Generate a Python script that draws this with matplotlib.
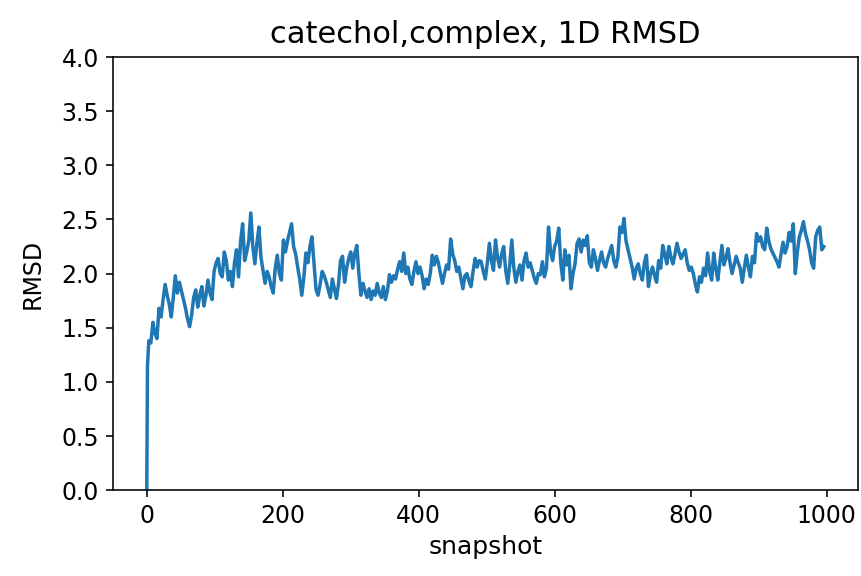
import numpy as np
import matplotlib.pyplot as plt

# RMSD per snapshot: first two frames, then every 3rd frame up to 996
rmsd_start = [0.00, 1.15]
rmsd = [
    1.38, 1.36, 1.55, 1.45, 1.40, 1.68, 1.60, 1.76, 1.90, 1.80, 1.72, 1.60, 1.78, 1.98, 1.82, 1.92, 1.84, 1.76, 1.68, 1.58,
    1.51, 1.62, 1.78, 1.85, 1.69, 1.80, 1.88, 1.70, 1.80, 1.94, 1.82, 1.76, 2.02, 2.10, 2.14, 2.00, 1.97, 2.20, 2.12, 1.94,
    2.02, 1.88, 2.10, 2.22, 1.97, 2.30, 2.46, 2.12, 2.20, 2.30, 2.56, 2.25, 2.09, 2.28, 2.43, 2.15, 2.03, 1.91, 2.02, 1.97,
    1.88, 1.82, 2.05, 2.17, 2.00, 1.94, 2.31, 2.20, 2.30, 2.38, 2.46, 2.25, 2.18, 2.06, 1.95, 1.80, 1.96, 2.19, 2.10, 2.25,
    2.34, 2.10, 1.85, 1.80, 1.90, 2.02, 1.98, 1.92, 1.85, 1.78, 1.95, 1.86, 1.77, 1.90, 2.12, 2.16, 1.92, 2.05, 2.14, 2.20,
    2.05, 2.19, 2.26, 2.00, 1.80, 1.91, 1.84, 1.78, 1.86, 1.76, 1.84, 1.80, 1.91, 1.82, 1.78, 1.88, 1.76, 1.84, 1.99, 1.92,
    1.98, 1.95, 2.04, 2.11, 2.02, 2.19, 2.00, 2.06, 1.95, 1.90, 2.02, 2.11, 2.00, 2.06, 1.98, 1.86, 1.95, 1.90, 2.00, 2.17,
    2.08, 2.16, 2.10, 2.00, 1.91, 2.00, 2.08, 2.04, 2.32, 2.18, 2.12, 2.02, 2.06, 1.96, 1.86, 1.98, 2.00, 1.93, 1.88, 2.02,
    2.14, 2.06, 2.12, 2.11, 2.02, 1.95, 2.10, 2.28, 2.12, 2.03, 2.31, 2.15, 2.06, 2.18, 2.25, 2.03, 1.91, 2.08, 2.31, 2.05,
    1.92, 2.02, 2.08, 1.94, 2.12, 2.19, 2.06, 2.10, 2.03, 1.96, 1.91, 2.00, 1.99, 2.11, 1.97, 2.05, 2.43, 2.20, 2.12, 2.25,
    2.30, 2.42, 2.10, 1.94, 2.22, 2.08, 2.17, 1.86, 2.00, 2.09, 2.28, 2.32, 2.20, 2.31, 2.26, 2.35, 2.10, 2.06, 2.22, 2.14,
    2.03, 2.12, 2.20, 2.10, 2.06, 2.14, 2.20, 2.26, 2.12, 2.06, 2.15, 2.43, 2.38, 2.51, 2.30, 2.22, 2.14, 2.06, 1.95, 2.05,
    2.09, 2.00, 1.94, 2.10, 2.17, 1.88, 2.00, 2.06, 1.98, 1.92, 2.12, 2.05, 2.26, 2.18, 2.09, 2.25, 2.15, 2.09, 2.18, 2.28,
    2.20, 2.14, 2.18, 2.22, 2.10, 2.03, 2.06, 2.00, 1.90, 1.83, 1.97, 1.92, 2.05, 1.98, 2.19, 2.02, 1.94, 2.19, 2.05, 1.94,
    2.10, 2.26, 2.08, 2.14, 2.23, 2.10, 2.00, 2.08, 2.16, 2.10, 2.05, 1.92, 2.05, 2.17, 2.06, 1.97, 2.16, 2.10, 2.37, 2.30,
    2.34, 2.25, 2.22, 2.42, 2.30, 2.23, 2.19, 2.15, 2.11, 2.06, 2.18, 2.29, 2.19, 2.25, 2.38, 2.30, 2.46, 2.00, 2.20, 2.34,
    2.40, 2.48, 2.37, 2.30, 2.22, 2.10, 2.05, 2.34, 2.40, 2.43, 2.22, 2.25,
]
snapshot = [0, 1] + list(range(3, 3 * len(rmsd) + 1, 3))
rmsd = rmsd_start + rmsd

fig = plt.figure(figsize=(8.62, 5.76), dpi=100)
ax = fig.add_axes([0.131, 0.149, 0.864, 0.752])

ax.plot(snapshot, rmsd, color="#1f77b4", linewidth=2.5)
ax.set_ylim(0, 4)
ax.set_yticks(np.arange(0, 4.01, 0.5))

ax.set_title("catechol,complex, 1D RMSD", fontsize=22, pad=10)
ax.set_xlabel("snapshot", fontsize=18, labelpad=5)
ax.set_ylabel("RMSD", fontsize=17, labelpad=12)

for spine in ax.spines.values():
    spine.set_linewidth(1.15)
ax.tick_params(width=1.15, length=5, pad=5, labelsize=17)

fig.savefig("out.png", dpi=100)
